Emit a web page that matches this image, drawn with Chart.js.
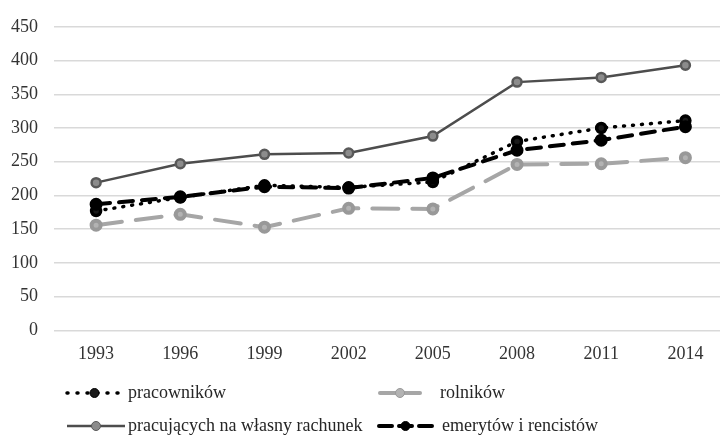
<!DOCTYPE html>
<html>
<head>
<meta charset="utf-8">
<script src="https://cdn.jsdelivr.net/npm/chart.js@4.4.1/dist/chart.umd.min.js"></script>
<style>
  html, body { margin: 0; padding: 0; background: #fff; overflow: hidden; }
  #wrap { width: 736px; height: 435px; }
</style>
</head>
<body>
<div id="wrap"><canvas id="chart"></canvas></div>
<script>
const years = ["1993", "1996", "1999", "2002", "2005", "2008", "2011", "2014"];
const pracownikow = [177, 197, 215, 212, 220, 280, 300, 311];
const rolnikow = [156, 172, 153, 181, 180, 246, 247, 256];
const naWlasnyRachunek = [219, 247, 261, 263, 288, 368, 375, 393];
const emerytow = [187, 198, 213, 211, 226, 267, 282, 302];

const serif = "'Liberation Serif', 'Times New Roman', serif";

// legend drawn on canvas in two columns like the original
const gridLegend = {
  id: "gridLegend",
  afterDraw(chart) {
    const ctx = chart.ctx;
    const slots = [
      { x: 67, w: 55, tx: 128, y: 393 },
      { x: 380, w: 40, tx: 440, y: 393 },
      { x: 67, w: 58, tx: 128, y: 426 },
      { x: 379, w: 53, tx: 442, y: 426 },
    ];
    chart.data.datasets.forEach((ds, i) => {
      const s = slots[i];
      ctx.save();
      ctx.strokeStyle = ds.borderColor;
      ctx.lineWidth = ds.borderWidth;
      ctx.lineCap = ds.borderCapStyle || "butt";
      ctx.setLineDash(ds.legendDash || ds.borderDash || []);
      ctx.beginPath();
      ctx.moveTo(s.x, s.y);
      ctx.lineTo(s.x + s.w, s.y);
      ctx.stroke();
      ctx.setLineDash([]);
      ctx.beginPath();
      ctx.arc(s.x + s.w / 2, s.y, ds.pointRadius, 0, Math.PI * 2);
      ctx.fillStyle = ds.pointBackgroundColor;
      ctx.fill();
      ctx.lineWidth = 1;
      ctx.strokeStyle = ds.pointBorderColor;
      ctx.stroke();
      ctx.fillStyle = "#262626";
      ctx.font = "18px " + serif;
      ctx.textBaseline = "middle";
      ctx.fillText(ds.label, s.tx, s.y);
      ctx.restore();
    });
  },
};

const ctx = document.getElementById("chart").getContext("2d");
new Chart(ctx, {
  type: "line",
  data: {
    labels: years,
    datasets: [
      {
        label: "pracowników",
        data: pracownikow,
        borderColor: "#000",
        borderWidth: 3.5,
        borderDash: [1, 8],
        borderCapStyle: "round",
        legendDash: [1, 9],
        pointRadius: 4.5,
        pointBackgroundColor: "#1a1a1a",
        pointBorderColor: "#000",
        order: 2,
      },
      {
        label: "rolników",
        data: rolnikow,
        borderColor: "#a6a6a6",
        borderWidth: 4,
        borderDash: [26, 14],
        borderCapStyle: "round",
        legendDash: [],
        pointRadius: 4.5,
        pointBackgroundColor: "#b3b3b3",
        pointBorderColor: "#999",
        order: 4,
      },
      {
        label: "pracujących na własny rachunek",
        data: naWlasnyRachunek,
        borderColor: "#4d4d4d",
        borderWidth: 2.5,
        borderDash: [],
        legendDash: [],
        pointRadius: 4.5,
        pointBackgroundColor: "#8c8c8c",
        pointBorderColor: "#595959",
        order: 3,
      },
      {
        label: "emerytów i rencistów",
        data: emerytow,
        borderColor: "#000",
        borderWidth: 4,
        borderDash: [14, 9],
        borderCapStyle: "round",
        legendDash: [13, 7],
        pointRadius: 4.5,
        pointBackgroundColor: "#000",
        pointBorderColor: "#000",
        order: 1,
      },
    ],
  },
  options: {
    responsive: true,
    maintainAspectRatio: false,
    animation: false,
    layout: { padding: { top: 15, right: 0, bottom: 57, left: 0 } },
    plugins: {
      legend: { display: false },
      tooltip: { enabled: false },
    },
    elements: { line: { tension: 0 } },
    scales: {
      x: {
        type: "category",
        offset: true,
        grid: { display: false, drawTicks: false },
        border: { display: false },
        ticks: { color: "#333", font: { family: serif, size: 18 }, padding: 13 },
      },
      y: {
        min: 0,
        max: 450,
        ticks: {
          stepSize: 50,
          color: "#333",
          font: { family: serif, size: 18 },
          padding: 16,
        },
        grid: { color: "#d9d9d9", lineWidth: 1.5, drawTicks: false },
        border: { display: false },
        afterFit(scale) { scale.width = 54; },
      },
    },
  },
  plugins: [gridLegend],
});
</script>
</body>
</html>
